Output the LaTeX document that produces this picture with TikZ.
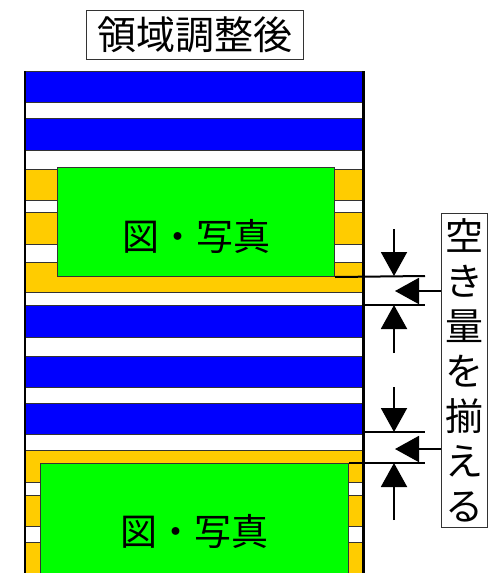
\documentclass[tikz,border=0pt]{standalone}
\usepackage{fontspec}
\newfontfamily\cjk{Noto Sans CJK JP}
\usetikzlibrary{arrows.meta, positioning}
\definecolor{bandblue}{RGB}{0,0,255}
\definecolor{bandorange}{RGB}{255,204,0}
\definecolor{figgreen}{RGB}{0,255,0}

\begin{document}
\begin{tikzpicture}[
  x=1pt, y=-1pt,
  band/.style = {draw=black!80, line width=0.8pt},
  figbox/.style = {rectangle, draw=black!80, line width=1pt, fill=figgreen,
                   anchor=north west, inner sep=0pt},
  figtext/.style = {font=\cjk\fontsize{37}{37}\selectfont, inner sep=0pt},
  titlebox/.style = {rectangle, draw=black!80, line width=0.8pt,
                     minimum width=217pt, minimum height=49pt, inner sep=0pt,
                     font=\cjk\fontsize{39}{39}\selectfont},
  lblbox/.style = {rectangle, draw=black!80, line width=0.8pt,
                   minimum width=46pt, minimum height=314pt, inner sep=0pt,
                   align=center, font=\cjk\fontsize{38}{45}\selectfont},
  gapline/.style = {line width=2pt},
  bigarr/.style = {-{Triangle[length=24pt, width=26pt]}, line width=2pt},
]
\useasboundingbox (0,0) rectangle (496,573);
\clip (0,0) rectangle (496,573);

% text lines of the page
\foreach \ya/\yb/\col in {71/102/bandblue, 102/118/white, 118/150/bandblue,
    150/169/white, 169/200/bandorange, 200/212/white, 212/244/bandorange,
    244/262/white, 262/292/bandorange, 292/305/white, 305/337/bandblue,
    337/356/white, 356/387/bandblue, 387/403/white, 403/434/bandblue,
    434/450/white, 450/482/bandorange, 482/495/white, 495/526/bandorange,
    526/542/white, 542/590/bandorange}
  \draw[band, fill=\col] (25,\ya) rectangle (363,\yb);
\draw[line width=1.6pt] (25,71) -- (25,590);
\draw[line width=3pt] (363,71) -- (363,590);

\node[titlebox] (title) at (194.5,34.5) {領域調整後};

\node[figbox, minimum width=277pt, minimum height=109pt] (fig1) at (57,167) {};
\node[figtext] (fig1txt) at ([yshift=-14pt]fig1.center) {図・写真};
\node[figbox, minimum width=308pt, minimum height=130pt] (fig2) at (40,463) {};
\node[figtext] (fig2txt) at ([yshift=-68pt]fig2.north) {図・写真};

\node[lblbox] (gaplbl) at (464,370) {空\\き\\量\\を\\揃\\え\\る};

% gap markers
\coordinate (g1t) at (425,276);
\coordinate (g1b0) at (363,305);
\coordinate (g1b) at (425,305);
\coordinate (g2t0) at (363,432);
\coordinate (g2t) at (425,432);
\coordinate (g2b) at (425,463);
\draw[gapline] (fig1.south east) -- (g1t);
\draw[gapline] (g1b0) -- (g1b);
\draw[gapline] (g2t0) -- (g2t);
\draw[gapline] (fig2.north east) -- (g2b);

\coordinate (d1) at (394,229);
\coordinate (u1) at (394,353);
\coordinate (d2) at (394,387);
\coordinate (u2) at (394,520);
\coordinate (m1) at (395,291);
\coordinate (m2) at (395,449);
\draw[bigarr] (d1) -- (d1 |- g1t);
\draw[bigarr] (u1) -- (u1 |- g1b);
\draw[bigarr] (d2) -- (d2 |- g2t);
\draw[bigarr] (u2) -- (u2 |- g2b);
\draw[bigarr] (gaplbl.west |- m1) -- (m1);
\draw[bigarr] (gaplbl.west |- m2) -- (m2);

\end{tikzpicture}
\end{document}
